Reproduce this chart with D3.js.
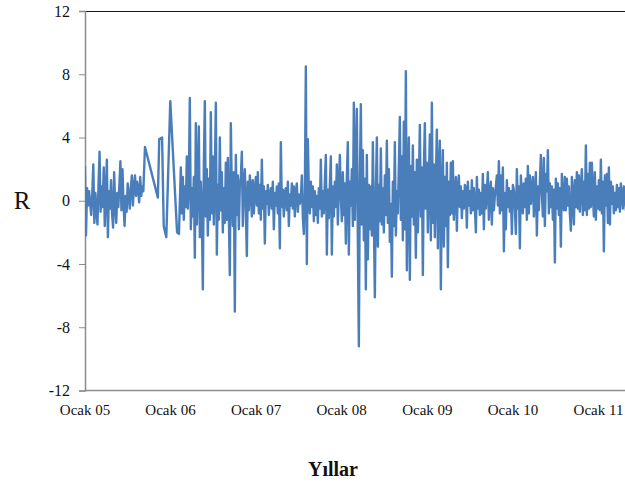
<!DOCTYPE html>
<html>
<head>
<meta charset="utf-8">
<script src="https://cdn.jsdelivr.net/npm/d3@7"></script>
<style>
  html, body { margin: 0; padding: 0; background: #ffffff; }
  svg { display: block; }
</style>
</head>
<body>
<svg id="chart" width="625" height="485"></svg>
<script>
// ---------------- DATA ----------------
// Segment 1: dense returns, Jan 2005 - Sep 2005
const seg1Start = "2005-01-03", seg1End = "2005-09-09";
const seg1Values = [
  2.2, -2.2, 0.8, -0.3, 0.6, -0.2, -0.9, 0.4, 2.3, -1.4,
  0.5, -0.6, -1.5, 1.0, 3.1, -0.7, 0.9, -0.4, 2.1, -1.6,
  0.4, 2.6, -2.3, 0.6, -0.5, 1.3, -0.8, -1.7, 1.8, -0.3,
  -1.4, 0.5, -0.4, 1.0, 2.5, -0.6, 2.0, -0.2, -1.6, 0.3,
  -0.7, 1.1, 0.4, -0.5, 0.8, 1.6, -0.3, 0.9, 1.6, 0.3,
  1.2, 0.8, -0.1, 1.5, 0.3, 0.9, 0.6
];
// Sparse observations, Sep 2005 - Feb 2006
const gapDates = ["2005-09-16", "2005-11-10", "2005-11-16", "2005-11-28", "2005-12-05",
                  "2005-12-16", "2006-01-02", "2006-01-31", "2006-02-08"];
const gapValues = [3.4, 0.2, 3.9, 4.0, -1.6, -2.3, 6.3, -2.0, -2.1];
// Segment 2: dense returns, Feb 2006 - May 2011
const seg2Start = "2006-02-16", seg2End = "2011-05-17";
const seg2Values = [
  2.1, -0.8, 1.5, -1.2, 0.9, -0.4, 2.8, -0.5, 1.2, 6.5, -1.8, 0.8, -1.0, 1.5, -3.6,
  4.9, -1.5, 1.0, 4.7, -2.3, 1.2, -0.8, -5.6, 2.2, 6.3, -1.0, 2.0, -2.2, 1.4, -1.2,
  5.6, -0.8, 2.8, -1.5, 1.6, 6.2, -3.4, 1.0, -1.2, 4.0, -0.6, 1.8, -2.0, 0.8, -1.4,
  2.4, -1.2, 2.7, -0.9, -4.7, 4.9, 0.5, -1.6, 1.8, -7.0, 2.9, -0.9, 1.6, -1.8, 1.0,
  1.5, 3.1, -1.6, 0.8, 2.0, -0.5, -3.5, 1.2, -0.6, 1.6, 0.8, -1.0, 1.3, -0.8, 0.6,
  1.5, -0.3, 1.8, -0.8, 1.0, -1.2, 2.6, -0.5, 0.9, -2.7, 0.6, -0.2, 1.0, -0.9, 0.4,
  0.8, -0.5, 1.2, -1.8, 0.5, -0.3, 0.9, -0.8, 1.1, -3.0, 3.7, -0.4, 0.7, -1.0, 0.5,
  0.8, -0.6, 1.2, -1.6, 0.4, -0.3, 1.1, -0.5, 0.9, -1.0, 0.6, 1.1, -0.7, 0.4, -0.2,
  0.2, 1.6, -1.0, -2.1, 0.5, 8.5, -4.0, 3.9, 0.5, -0.8, 1.2, -0.4, 0.9, -1.3, 0.6,
  -0.9, 0.3, -1.4, 0.8, -0.5, 2.6, -1.0, 0.6, -0.8, 1.2, 2.9, -3.4, 0.7, -1.1, 1.0,
  2.8, -3.4, 0.9, -1.0, 1.2, -0.4, 2.3, -1.5, 0.8, 2.9, 0.2, -1.3, 1.8, -0.9, 1.1,
  -2.7, 1.5, 3.7, -3.4, 1.2, -0.3, 2.0, -1.6, 6.2, -1.2, 2.5, 5.8, -2.4, -9.2, 1.3,
  6.1, -1.5, 3.2, -2.5, 1.4, -5.6, 2.9, -3.7, 1.0, -1.8, 0.9, -2.2, 3.7, -1.0, -6.1,
  0.5, 4.0, -2.9, 1.0, -1.3, 3.3, -1.5, 0.8, -2.0, 1.6, -0.9, 3.8, -1.4, 2.0, -2.6,
  -0.2, -4.8, 1.2, -1.6, 3.7, -2.2, 0.6, -0.8, 2.2, 5.3, -1.2, 2.8, -2.5, 5.0, -1.8,
  8.2, -4.4, 1.5, 4.0, -5.0, 2.2, -1.0, 3.5, -1.5, 1.8, -3.6, 2.6, -2.0, 1.0, 4.8,
  -1.0, 2.1, -4.7, 2.0, 4.9, -0.5, 2.4, -2.0, 1.2, 4.2, -2.5, 6.2, -1.4, 2.3, -2.3,
  1.4, 4.5, -3.0, 1.9, 3.8, -5.6, 0.5, 3.2, -2.9, 1.5, -1.6, 2.4, -4.2, 1.2, -0.9,
  2.4, -0.8, 2.5, -1.2, 0.5, 1.5, -1.9, 0.8, 1.6, -0.4, 0.9, -1.1, 0.6, -0.5, 1.0,
  0.8, -1.7, 1.2, -0.3, 0.6, -0.8, 1.3, -0.6, 0.8, -0.4, -2.0, 1.5, -0.5, 0.7, -0.9,
  0.5, -0.8, 1.7, -1.8, 1.0, -0.5, 0.6, 1.8, -1.2, 0.4, 1.2, -1.5, 0.8, -0.6, 0.3,
  0.9, 1.6, -0.3, 2.5, -0.8, 1.6, -0.6, 2.1, -3.2, 0.5, -1.8, 1.3, -0.4, 0.8, -0.7,
  0.6, -2.1, 1.0, 0.7, -0.5, -2.1, 2.0, -0.5, 0.9, -3.0, 1.6, 0.4, -0.8, 1.1, -0.4,
  1.4, -1.2, 2.2, -0.8, 1.6, -0.2, 0.8, 1.5, -1.0, 0.5, 1.8, -2.2, 0.9, -0.6, 1.2,
  2.9, 0.5, -1.0, 2.7, -1.6, 1.7, 0.6, 3.2, -0.8, 1.1, -0.4, 0.9, -1.2, 0.7, -3.9,
  1.4, -0.5, 1.1, -0.9, 0.8, -2.9, 1.7, 0.2, -0.6, 1.5, -0.6, 1.4, -0.3, 0.9, -0.8,
  -1.9, 1.5, 0.3, -1.5, 1.3, -0.4, 1.8, -0.5, 1.6, -0.7, 0.8, 2.0, -0.9, 1.2, -0.6,
  3.5, -0.9, 1.7, -0.5, 2.4, -0.4, 2.4, 0.4, -1.0, 1.8, -1.2, 0.9, -0.5, 1.3, -0.6,
  2.6, -0.8, 1.2, -3.2, 1.6, -0.3, 1.7, -1.4, 2.1, -1.5, 1.2, -0.2, 0.9, -0.8, 0.5,
  -0.6, 1.0, -0.4, 0.8, -0.7, 1.1, 0.3, -0.5, 0.9, 0.2, -0.6, 0.8, -0.3, 0.6, -0.4
];
const yTicks = [-12, -8, -4, 0, 4, 8, 12];
const xTickDates = ["2005-01-01", "2006-01-01", "2007-01-01", "2008-01-01", "2009-01-01", "2010-01-01", "2011-01-01"];
const xTickLabels = ["Ocak 05", "Ocak 06", "Ocak 07", "Ocak 08", "Ocak 09", "Ocak 10", "Ocak 11"];
const yTitle = "R";
const xTitle = "Yıllar";

// ---------------- BUILD ----------------
(function () {
  const parse = d3.timeParse("%Y-%m-%d");
  function spread(start, end, values) {
    const t0 = parse(start).getTime(), t1 = parse(end).getTime();
    return values.map((v, i) => ({ date: new Date(t0 + (t1 - t0) * i / (values.length - 1)), value: v }));
  }
  const points = []
    .concat(spread(seg1Start, seg1End, seg1Values))
    .concat(gapDates.map((d, i) => ({ date: parse(d), value: gapValues[i] })))
    .concat(spread(seg2Start, seg2End, seg2Values));

  const svg = d3.select("#chart");
  const pLeft = 85, pRight = 625, pTop = 11, pBottom = 390.5;
  const FONT = "'Liberation Serif', 'Times New Roman', serif";

  const x = d3.scaleTime()
    .domain([parse(xTickDates[0]), parse(xTickDates[xTickDates.length - 1])])
    .range([84.5, 598]);
  const y = d3.scaleLinear().domain([-12, 12]).range([pBottom, pTop]);

  svg.append("defs").append("clipPath").attr("id", "clip")
    .append("rect").attr("x", pLeft).attr("y", 0).attr("width", pRight - pLeft).attr("height", 485);

  // top border
  svg.append("line").attr("x1", pLeft).attr("x2", pRight).attr("y1", pTop + 0.5).attr("y2", pTop + 0.5)
    .attr("stroke", "#1a1a1a").attr("stroke-width", 1);

  // Y axis
  const yAxis = d3.axisLeft(y).tickValues(yTicks).tickSize(6).tickPadding(9)
    .tickFormat(d => d < 0 ? "-" + Math.abs(d) : String(d));
  const gy = svg.append("g").attr("transform", `translate(${pLeft},0)`).call(yAxis);
  gy.select(".domain").attr("stroke", "#8c8c8c").attr("stroke-width", 1.5);
  gy.selectAll(".tick line").attr("stroke", "#8c8c8c").attr("stroke-width", 1);
  gy.selectAll(".tick text").attr("font-family", FONT).attr("font-size", 16).attr("fill", "#111");

  // X axis
  const xAxis = d3.axisBottom(x).tickValues(xTickDates.map(parse)).tickSize(0).tickPadding(14)
    .tickFormat((d, i) => xTickLabels[i]);
  const gx = svg.append("g").attr("transform", `translate(0,${pBottom})`).call(xAxis);
  gx.select(".domain").remove();
  svg.append("line").attr("x1", pLeft).attr("x2", pRight).attr("y1", pBottom).attr("y2", pBottom)
    .attr("stroke", "#8c8c8c").attr("stroke-width", 1.5);
  gx.selectAll(".tick text").attr("font-family", FONT).attr("font-size", 15).attr("fill", "#111");

  // Line
  const line = d3.line().x(d => x(d.date)).y(d => y(d.value));
  svg.append("path").datum(points)
    .attr("clip-path", "url(#clip)")
    .attr("fill", "none")
    .attr("stroke", "#4a7ebb")
    .attr("stroke-width", 2.4)
    .attr("stroke-linejoin", "round")
    .attr("d", line);

  // Titles
  svg.append("text").attr("x", 22).attr("y", 209).attr("text-anchor", "middle")
    .attr("font-family", FONT).attr("font-size", 25).attr("fill", "#111").text(yTitle);
  svg.append("text").attr("x", 333).attr("y", 476).attr("text-anchor", "middle")
    .attr("font-family", FONT).attr("font-size", 20).attr("font-weight", "bold").attr("fill", "#111").text(xTitle);
})();
</script>
</body>
</html>
